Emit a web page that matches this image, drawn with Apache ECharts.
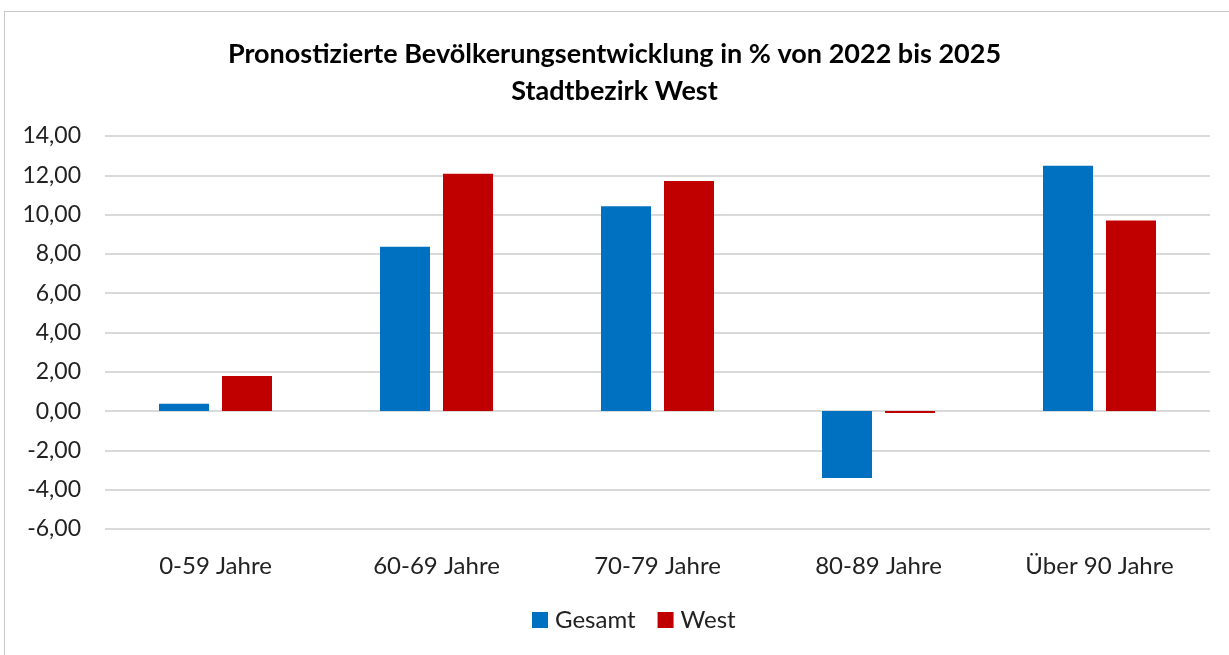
<!DOCTYPE html>
<html>
<head>
<meta charset="utf-8">
<script src="https://cdn.jsdelivr.net/npm/echarts@6/dist/echarts.min.js"></script>
<style>
  html, body { margin: 0; padding: 0; background: #fff; }
  #frame { position: absolute; left: 4px; top: 11px; width: 1240px; height: 660px; border: 1px solid #c8c8c8; box-sizing: border-box; }
  #chart { position: absolute; left: 0; top: 0; width: 1229px; height: 655px; }
</style>
</head>
<body>
<div id="frame"></div>
<div id="chart"></div>
<script>
  const categories = ["0-59 Jahre", "60-69 Jahre", "70-79 Jahre", "80-89 Jahre", "Über 90 Jahre"];
  const gesamt = [0.37, 8.36, 10.43, -3.4, 12.48];
  const west = [1.79, 12.08, 11.71, -0.1, 9.7];
  const seriesNames = ["Gesamt", "West"];

  const font = "Lato, 'Open Sans', sans-serif";
  const chart = echarts.init(document.getElementById("chart"));

  const option = {
    animation: false,
    title: {
      text: "Pronostizierte Bevölkerungsentwicklung in % von 2022 bis 2025\nStadtbezirk West",
      left: "center",
      top: 31,
      textStyle: {
        fontFamily: font,
        fontSize: 27,
        fontWeight: "bold",
        color: "#000",
        lineHeight: 37
      }
    },
    legend: {
      data: seriesNames,
      bottom: 18,
      left: 527,
      itemWidth: 16,
      itemHeight: 16,
      itemGap: 22,
      icon: "rect",
      textStyle: { fontFamily: font, fontSize: 24, color: "#222", padding: [0, 0, 0, 2] }
    },
    grid: {
      left: 105,
      right: 19,
      top: 136,
      bottom: 126
    },
    xAxis: {
      type: "category",
      data: categories,
      axisLine: { show: false },
      axisTick: { show: false },
      axisLabel: {
        fontFamily: font,
        fontSize: 24,
        color: "#222",
        margin: 25
      }
    },
    yAxis: {
      type: "value",
      min: -6,
      max: 14,
      interval: 2,
      axisLine: { show: false },
      axisTick: { show: false },
      axisLabel: {
        fontFamily: font,
        fontSize: 23,
        color: "#222",
        margin: 24,
        formatter: v => v.toFixed(2).replace(".", ",")
      },
      splitLine: { lineStyle: { color: "#d9d9d9", width: 2 } }
    },
    series: [
      {
        name: "Gesamt",
        type: "bar",
        barWidth: 50,
        barGap: "26%",
        itemStyle: { color: "#0070C0" },
        data: gesamt
      },
      {
        name: "West",
        type: "bar",
        barWidth: 50,
        itemStyle: { color: "#C00000" },
        data: west
      }
    ]
  };
  chart.setOption(option);
</script>
</body>
</html>
